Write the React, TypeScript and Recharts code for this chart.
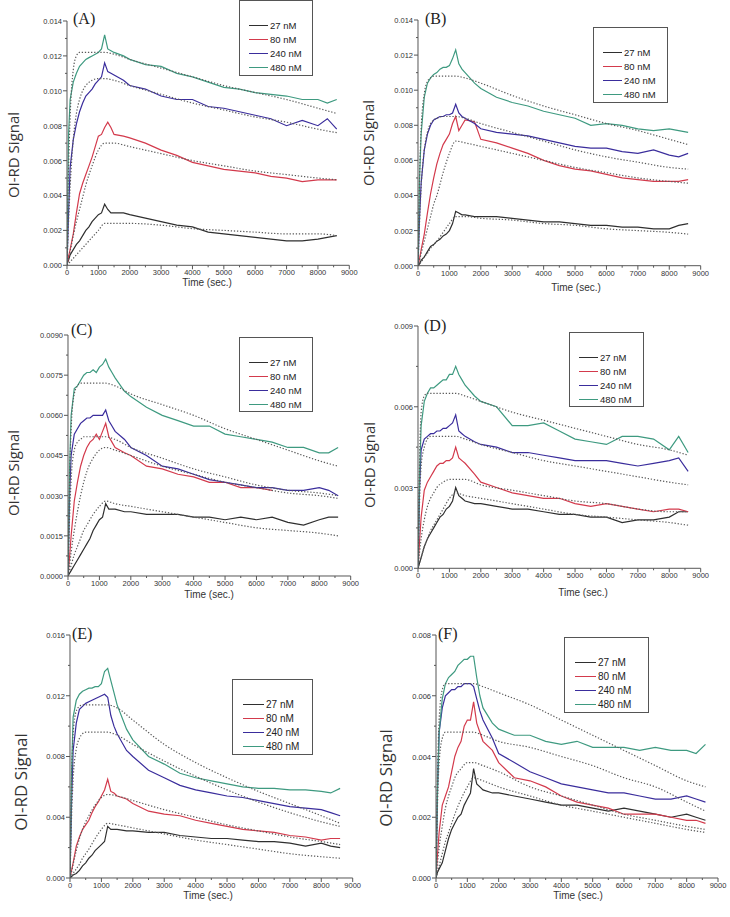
import React from "react";
import { Line, LineChart, XAxis, YAxis } from "recharts";

// sample times (sec.) for measured traces and for fitted curves
const T = [0, 50, 100, 200, 300, 400, 500, 600, 700, 800, 900, 1000, 1100, 1200, 1300, 1400, 1500, 1800, 2000, 2500, 3000, 3500, 4000, 4500, 5000, 5500, 6000, 6500, 7000, 7500, 8000, 8300, 8600];
const FT = [0, 50, 100, 200, 300, 400, 500, 600, 800, 1000, 1200, 1500, 2000, 3000, 4000, 5000, 6000, 7000, 8000, 8600];

const X_TICKS = [0, 500, 1000, 1500, 2000, 2500, 3000, 3500, 4000, 4500, 5000, 5500, 6000, 6500, 7000, 7500, 8000, 8500, 9000];
const Y_TICKS_AB = [0, 0.001, 0.002, 0.003, 0.004, 0.005, 0.006, 0.007, 0.008, 0.009, 0.01, 0.011, 0.012, 0.013, 0.014];
const Y_TICKS_C = [0, 0.00075, 0.0015, 0.00225, 0.003, 0.00375, 0.0045, 0.00525, 0.006, 0.00675, 0.0075, 0.00825, 0.009];
const Y_TICKS_D = [0, 0.0015, 0.003, 0.0045, 0.006, 0.0075, 0.009];
const Y_TICKS_E = [0, 0.002, 0.004, 0.006, 0.008, 0.01, 0.012, 0.014, 0.016];
const Y_TICKS_F = [0, 0.001, 0.002, 0.003, 0.004, 0.005, 0.006, 0.007, 0.008];

const CONCS = ["27 nM", "80 nM", "240 nM", "480 nM"];
const COLORS = ["#2f2f2f", "#d33a4c", "#3a2d9c", "#3e9a80"];

// (A)
const A_27 = [0.0001, 0.0003, 0.0006, 0.0009, 0.0012, 0.0014, 0.0017, 0.002, 0.0022, 0.0025, 0.0027, 0.0029, 0.003, 0.0035, 0.0032, 0.003, 0.003, 0.003, 0.0029, 0.0027, 0.0025, 0.0023, 0.0022, 0.0019, 0.0018, 0.0017, 0.0016, 0.0015, 0.0014, 0.0014, 0.0015, 0.0016, 0.0017];
const A_80 = [0, 0.0005, 0.0009, 0.0018, 0.003, 0.0041, 0.0047, 0.0052, 0.0057, 0.0062, 0.0068, 0.0074, 0.0075, 0.0079, 0.0082, 0.0079, 0.0075, 0.0074, 0.0073, 0.007, 0.0066, 0.0063, 0.0059, 0.0057, 0.0055, 0.0054, 0.0053, 0.0051, 0.005, 0.0048, 0.0049, 0.0049, 0.0049];
const A_240 = [0, 0.003, 0.0056, 0.0072, 0.0081, 0.0088, 0.0093, 0.0097, 0.0099, 0.0101, 0.0104, 0.0106, 0.0108, 0.0116, 0.0111, 0.011, 0.0109, 0.0106, 0.0103, 0.0101, 0.0097, 0.0095, 0.0095, 0.0091, 0.009, 0.0088, 0.0086, 0.0084, 0.008, 0.0083, 0.008, 0.0084, 0.0078];
const A_480 = [0, 0.0075, 0.0095, 0.0105, 0.011, 0.0114, 0.0116, 0.0118, 0.0119, 0.012, 0.0121, 0.0122, 0.0124, 0.0132, 0.0124, 0.0123, 0.0122, 0.012, 0.0118, 0.0115, 0.0114, 0.011, 0.0108, 0.0105, 0.0102, 0.0101, 0.0099, 0.0098, 0.0097, 0.0095, 0.0095, 0.0093, 0.0095];
const A_FIT_27 = [0, 0.0001, 0.0002, 0.0004, 0.0006, 0.0008, 0.001, 0.0012, 0.0016, 0.002, 0.0024, 0.0024, 0.0024, 0.0023, 0.0021, 0.002, 0.0019, 0.0018, 0.0018, 0.0017];
const A_FIT_80 = [0, 0.0004, 0.0008, 0.0017, 0.0025, 0.0032, 0.0039, 0.0046, 0.0057, 0.0066, 0.007, 0.007, 0.0068, 0.0064, 0.006, 0.0057, 0.0054, 0.0052, 0.005, 0.0049];
const A_FIT_240 = [0, 0.0025, 0.0045, 0.0072, 0.0087, 0.0095, 0.01, 0.0103, 0.0106, 0.0107, 0.0107, 0.0106, 0.0103, 0.0098, 0.0093, 0.0089, 0.0085, 0.0082, 0.0078, 0.0076];
const A_FIT_480 = [0, 0.0055, 0.0085, 0.0112, 0.012, 0.0122, 0.0122, 0.0122, 0.0122, 0.0122, 0.0122, 0.0121, 0.0118, 0.0113, 0.0108, 0.0103, 0.0099, 0.0095, 0.009, 0.0087];

// (B)
const B_27 = [0, 0.0001, 0.0003, 0.0005, 0.0008, 0.0011, 0.0012, 0.0014, 0.0015, 0.0017, 0.0018, 0.002, 0.0024, 0.0031, 0.003, 0.0029, 0.0029, 0.0028, 0.0028, 0.0028, 0.0027, 0.0026, 0.0025, 0.0025, 0.0024, 0.0023, 0.0023, 0.0022, 0.0022, 0.0021, 0.0021, 0.0023, 0.0024];
const B_80 = [0, 0.0004, 0.0009, 0.0018, 0.003, 0.0041, 0.005, 0.0058, 0.0064, 0.0069, 0.0072, 0.0075, 0.0081, 0.0085, 0.0077, 0.008, 0.0083, 0.0082, 0.0072, 0.007, 0.0067, 0.0064, 0.006, 0.0057, 0.0055, 0.0054, 0.0052, 0.005, 0.0049, 0.0048, 0.0048, 0.0048, 0.0049];
const B_240 = [0, 0.0028, 0.0047, 0.0066, 0.0075, 0.008, 0.0083, 0.0084, 0.0085, 0.0085, 0.0086, 0.0086, 0.0087, 0.0092, 0.0087, 0.0085, 0.0084, 0.0081, 0.0078, 0.0076, 0.0075, 0.0074, 0.0072, 0.007, 0.0068, 0.0067, 0.0067, 0.0065, 0.0064, 0.0066, 0.0063, 0.0062, 0.0064];
const B_480 = [0, 0.005, 0.0075, 0.0096, 0.0104, 0.0107, 0.0109, 0.011, 0.0112, 0.0113, 0.0113, 0.0114, 0.0118, 0.0123, 0.0115, 0.0112, 0.011, 0.0104, 0.0101, 0.0096, 0.0093, 0.0091, 0.0088, 0.0086, 0.0084, 0.008, 0.0081, 0.008, 0.0078, 0.0077, 0.0078, 0.0077, 0.0076];
const B_FIT_27 = [0, 0.0001, 0.0002, 0.0005, 0.0007, 0.001, 0.0012, 0.0014, 0.0019, 0.0024, 0.0028, 0.0028, 0.0027, 0.0026, 0.0024, 0.0023, 0.0021, 0.002, 0.0019, 0.0018];
const B_FIT_80 = [0, 0.0003, 0.0007, 0.0014, 0.0021, 0.0028, 0.0035, 0.004, 0.0053, 0.0064, 0.0071, 0.007, 0.0068, 0.0064, 0.006, 0.0056, 0.0053, 0.005, 0.0048, 0.0047];
const B_FIT_240 = [0, 0.0025, 0.0045, 0.0066, 0.0076, 0.0081, 0.0083, 0.0084, 0.0085, 0.0085, 0.0085, 0.0084, 0.0081, 0.0076, 0.0071, 0.0066, 0.0062, 0.0059, 0.0056, 0.0055];
const B_FIT_480 = [0, 0.005, 0.0078, 0.0098, 0.0105, 0.0107, 0.0108, 0.0108, 0.0108, 0.0108, 0.0108, 0.0107, 0.0104, 0.0097, 0.0091, 0.0086, 0.0081, 0.0077, 0.0072, 0.0069];

// (C)  the 80 nM trace disappears under 240 nM after ~6500 s
const C_27 = [0, 0.0001, 0.0002, 0.0004, 0.0006, 0.0008, 0.001, 0.0012, 0.0014, 0.0017, 0.0019, 0.0021, 0.0022, 0.0027, 0.0025, 0.0025, 0.0025, 0.0024, 0.0024, 0.0023, 0.0023, 0.0023, 0.0022, 0.0022, 0.0021, 0.0022, 0.0021, 0.0022, 0.002, 0.0019, 0.0021, 0.0022, 0.0022];
const C_80 = [0, 0.0007, 0.0015, 0.0028, 0.0035, 0.0041, 0.0045, 0.0048, 0.005, 0.0051, 0.0053, 0.0051, 0.0054, 0.0057, 0.0052, 0.005, 0.0048, 0.0046, 0.0045, 0.0041, 0.004, 0.0038, 0.0037, 0.0035, 0.0035, 0.0033, 0.0033, 0.0032];
const C_240 = [0, 0.003, 0.0045, 0.0053, 0.0055, 0.0057, 0.0058, 0.0059, 0.0059, 0.006, 0.006, 0.006, 0.006, 0.0062, 0.0058, 0.0056, 0.0054, 0.0051, 0.0048, 0.0045, 0.0041, 0.004, 0.0038, 0.0036, 0.0035, 0.0034, 0.0033, 0.0033, 0.0032, 0.0032, 0.0033, 0.0032, 0.003];
const C_480 = [0, 0.004, 0.006, 0.007, 0.0071, 0.0073, 0.0075, 0.0076, 0.0076, 0.0077, 0.0076, 0.0078, 0.0079, 0.0081, 0.0078, 0.0076, 0.0074, 0.0069, 0.0067, 0.0063, 0.006, 0.0058, 0.0056, 0.0056, 0.0053, 0.0052, 0.0051, 0.005, 0.0048, 0.0048, 0.0046, 0.0046, 0.0048];
const C_FIT_27 = [0, 0.0002, 0.0004, 0.0008, 0.0011, 0.0014, 0.0017, 0.0019, 0.0023, 0.0026, 0.0028, 0.0027, 0.0026, 0.0024, 0.0022, 0.002, 0.0018, 0.0017, 0.0016, 0.0015];
const C_FIT_80 = [0, 0.0004, 0.0009, 0.0017, 0.0024, 0.003, 0.0035, 0.0039, 0.0044, 0.0047, 0.0048, 0.0047, 0.0045, 0.0041, 0.0038, 0.0035, 0.0033, 0.0031, 0.003, 0.0029];
const C_FIT_240 = [0, 0.0022, 0.0036, 0.0047, 0.005, 0.0051, 0.0052, 0.0052, 0.0052, 0.0052, 0.0052, 0.0051, 0.0048, 0.0044, 0.004, 0.0037, 0.0034, 0.0032, 0.0031, 0.003];
const C_FIT_480 = [0, 0.0035, 0.0055, 0.0068, 0.0071, 0.0072, 0.0072, 0.0072, 0.0072, 0.0072, 0.0072, 0.0071, 0.0068, 0.0064, 0.006, 0.0055, 0.0051, 0.0047, 0.0043, 0.0041];

// (D)
const D_27 = [0, 0.0002, 0.0004, 0.0008, 0.0011, 0.0013, 0.0015, 0.0017, 0.0019, 0.002, 0.0022, 0.0023, 0.0025, 0.003, 0.0027, 0.0026, 0.0025, 0.0024, 0.0024, 0.0023, 0.0022, 0.0022, 0.0021, 0.002, 0.002, 0.0019, 0.0019, 0.0017, 0.0018, 0.0018, 0.0019, 0.0021, 0.0021];
const D_80 = [0, 0.001, 0.0019, 0.0029, 0.0032, 0.0034, 0.0036, 0.0038, 0.0039, 0.0039, 0.004, 0.004, 0.0041, 0.0045, 0.0041, 0.004, 0.0039, 0.0035, 0.0032, 0.003, 0.0028, 0.0027, 0.0026, 0.0026, 0.0024, 0.0023, 0.0024, 0.0023, 0.0022, 0.0021, 0.0022, 0.0022, 0.0021];
const D_240 = [0, 0.003, 0.0044, 0.0048, 0.0049, 0.005, 0.005, 0.0051, 0.0051, 0.0052, 0.0052, 0.0053, 0.0054, 0.0057, 0.0051, 0.005, 0.0049, 0.0047, 0.0046, 0.0045, 0.0043, 0.0043, 0.0042, 0.0041, 0.004, 0.004, 0.004, 0.0039, 0.0038, 0.0039, 0.004, 0.0041, 0.0036];
const D_480 = [0, 0.0035, 0.0053, 0.0062, 0.0065, 0.0067, 0.0067, 0.0068, 0.0069, 0.007, 0.007, 0.0072, 0.0072, 0.0075, 0.0072, 0.007, 0.0068, 0.0064, 0.0062, 0.006, 0.0053, 0.0053, 0.0054, 0.0051, 0.0048, 0.0047, 0.0046, 0.0049, 0.0049, 0.0048, 0.0044, 0.0049, 0.0043];
const D_FIT_27 = [0, 0.0002, 0.0004, 0.0008, 0.0011, 0.0014, 0.0016, 0.0018, 0.0022, 0.0026, 0.0028, 0.0027, 0.0026, 0.0024, 0.0022, 0.002, 0.0019, 0.0018, 0.0017, 0.0016];
const D_FIT_80 = [0, 0.0006, 0.0011, 0.0018, 0.0023, 0.0026, 0.0028, 0.003, 0.0032, 0.0033, 0.0033, 0.0033, 0.0031, 0.0029, 0.0027, 0.0025, 0.0024, 0.0022, 0.0021, 0.0021];
const D_FIT_240 = [0, 0.0025, 0.0038, 0.0045, 0.0048, 0.0049, 0.0049, 0.0049, 0.0049, 0.0049, 0.0049, 0.0048, 0.0046, 0.0043, 0.004, 0.0038, 0.0036, 0.0034, 0.0032, 0.0031];
const D_FIT_480 = [0, 0.004, 0.0058, 0.0064, 0.0065, 0.0065, 0.0065, 0.0065, 0.0065, 0.0065, 0.0065, 0.0064, 0.0062, 0.0058, 0.0055, 0.0052, 0.0049, 0.0046, 0.0044, 0.0042];

// (E)
const E_27 = [0, 0.0001, 0.0002, 0.0003, 0.0005, 0.0008, 0.001, 0.0013, 0.0015, 0.0018, 0.002, 0.0022, 0.0024, 0.0034, 0.0032, 0.0032, 0.0032, 0.0031, 0.0031, 0.003, 0.003, 0.0028, 0.0027, 0.0026, 0.0026, 0.0025, 0.0024, 0.0024, 0.0023, 0.0021, 0.0023, 0.0021, 0.002];
const E_80 = [0, 0.0005, 0.001, 0.0021, 0.0027, 0.0032, 0.0035, 0.0038, 0.0043, 0.0047, 0.005, 0.0054, 0.0058, 0.0065, 0.0057, 0.0056, 0.0054, 0.0052, 0.0049, 0.0044, 0.0042, 0.0041, 0.0038, 0.0036, 0.0034, 0.0032, 0.0031, 0.003, 0.0028, 0.0027, 0.0025, 0.0026, 0.0026];
const E_240 = [0, 0.005, 0.0084, 0.0102, 0.0111, 0.0113, 0.0115, 0.0116, 0.0117, 0.0118, 0.0119, 0.012, 0.0121, 0.0119, 0.0107, 0.01, 0.0095, 0.0084, 0.008, 0.0071, 0.0066, 0.0061, 0.0058, 0.0056, 0.0054, 0.0053, 0.0051, 0.0049, 0.0047, 0.0046, 0.0045, 0.0043, 0.0041];
const E_480 = [0, 0.007, 0.0106, 0.0117, 0.0121, 0.0123, 0.0124, 0.0125, 0.0125, 0.0126, 0.0126, 0.0128, 0.0136, 0.0138, 0.013, 0.0122, 0.0114, 0.0098, 0.0091, 0.008, 0.0075, 0.0069, 0.0066, 0.0064, 0.0062, 0.006, 0.0059, 0.0059, 0.0058, 0.0058, 0.0057, 0.0056, 0.0059];
const E_FIT_27 = [0, 0.0001, 0.0003, 0.0006, 0.0009, 0.0013, 0.0016, 0.0019, 0.0026, 0.0032, 0.0036, 0.0035, 0.0033, 0.0029, 0.0025, 0.0022, 0.0019, 0.0016, 0.0014, 0.0013];
const E_FIT_80 = [0, 0.0004, 0.0009, 0.0018, 0.0026, 0.0032, 0.0037, 0.0041, 0.0048, 0.0053, 0.0055, 0.0054, 0.0051, 0.0045, 0.004, 0.0035, 0.0031, 0.0027, 0.0024, 0.0022];
const E_FIT_240 = [0, 0.004, 0.0065, 0.0085, 0.0092, 0.0095, 0.0096, 0.0096, 0.0096, 0.0096, 0.0096, 0.0094, 0.0088, 0.0077, 0.0067, 0.0058, 0.005, 0.0043, 0.0037, 0.0034];
const E_FIT_480 = [0, 0.0065, 0.0095, 0.011, 0.0113, 0.0114, 0.0114, 0.0114, 0.0114, 0.0114, 0.0114, 0.0112, 0.0104, 0.0088, 0.0076, 0.0066, 0.0057, 0.0049, 0.0041, 0.0036];

// (F)
const F_27 = [0, 0.0002, 0.0003, 0.0005, 0.0009, 0.0013, 0.0016, 0.0018, 0.002, 0.0021, 0.0024, 0.0026, 0.0028, 0.0036, 0.0031, 0.003, 0.0029, 0.0028, 0.0028, 0.0027, 0.0026, 0.0025, 0.0024, 0.0024, 0.0023, 0.0022, 0.0023, 0.0022, 0.0021, 0.002, 0.0021, 0.002, 0.0019];
const F_80 = [0, 0.0008, 0.0015, 0.0024, 0.0027, 0.003, 0.0035, 0.004, 0.0043, 0.0045, 0.005, 0.0052, 0.0052, 0.0058, 0.0051, 0.0048, 0.0045, 0.0042, 0.0038, 0.0033, 0.0032, 0.003, 0.0027, 0.0025, 0.0024, 0.0023, 0.0021, 0.0021, 0.0021, 0.002, 0.0019, 0.0019, 0.0018];
const F_240 = [0, 0.003, 0.0048, 0.0056, 0.006, 0.0061, 0.0062, 0.0062, 0.0063, 0.0063, 0.0064, 0.0064, 0.0064, 0.0063, 0.0059, 0.0055, 0.0052, 0.0046, 0.0041, 0.0038, 0.0035, 0.0033, 0.0031, 0.003, 0.0029, 0.0028, 0.0028, 0.0027, 0.0026, 0.0026, 0.0027, 0.0026, 0.0025];
const F_480 = [0, 0.003, 0.0048, 0.0059, 0.0064, 0.0066, 0.0067, 0.0068, 0.007, 0.0071, 0.0072, 0.0072, 0.0073, 0.0073, 0.0066, 0.006, 0.0056, 0.0051, 0.0049, 0.0047, 0.0047, 0.0045, 0.0044, 0.0045, 0.0043, 0.0043, 0.0043, 0.0042, 0.0043, 0.0042, 0.0042, 0.0041, 0.0044];
const F_FIT_27 = [0, 0.0002, 0.0004, 0.0008, 0.0012, 0.0015, 0.0018, 0.0021, 0.0026, 0.003, 0.0033, 0.0032, 0.003, 0.0027, 0.0024, 0.0022, 0.002, 0.0018, 0.0016, 0.0015];
const F_FIT_80 = [0, 0.0005, 0.001, 0.0017, 0.0023, 0.0027, 0.003, 0.0033, 0.0036, 0.0038, 0.0038, 0.0037, 0.0035, 0.003, 0.0027, 0.0024, 0.0021, 0.0019, 0.0017, 0.0016];
const F_FIT_240 = [0, 0.0025, 0.0038, 0.0046, 0.0048, 0.0048, 0.0048, 0.0048, 0.0048, 0.0048, 0.0048, 0.0047, 0.0045, 0.0043, 0.004, 0.0037, 0.0033, 0.003, 0.0025, 0.0022];
const F_FIT_480 = [0, 0.0035, 0.0052, 0.0062, 0.0064, 0.0064, 0.0064, 0.0064, 0.0064, 0.0064, 0.0064, 0.0063, 0.0061, 0.0057, 0.0052, 0.0047, 0.0042, 0.0037, 0.0032, 0.003];

const AXIS = "#555";
const FIT = "#5a5a5a";
const SANS = '"Liberation Sans", Arial, sans-serif';

const panels = [
  {
    letter: "(A)", data: [A_27, A_80, A_240, A_480], fits: [A_FIT_27, A_FIT_80, A_FIT_240, A_FIT_480],
    yMax: 0.014, yTicks: Y_TICKS_AB, yMajor: 0.002, digits: 3,
    plot: { l: 66.7, t: 20.7, r: 349, b: 265 },
    legend: { l: 239, t: 0, w: 74, h: 76 }, ylab: { x: 13, y: 155, size: 15 }, xlab: { x: 207, y: 283 }, tag: { x: 73, y: 20.5 },
  },
  {
    letter: "(B)", data: [B_27, B_80, B_240, B_480], fits: [B_FIT_27, B_FIT_80, B_FIT_240, B_FIT_480],
    yMax: 0.014, yTicks: Y_TICKS_AB, yMajor: 0.002, digits: 3,
    plot: { l: 418.3, t: 20, r: 701, b: 265.7 },
    legend: { l: 593, t: 27, w: 75, h: 76 }, ylab: { x: 368, y: 143, size: 15 }, xlab: { x: 576, y: 288 }, tag: { x: 425, y: 20.5 },
  },
  {
    letter: "(C)", data: [C_27, C_80, C_240, C_480], fits: [C_FIT_27, C_FIT_80, C_FIT_240, C_FIT_480],
    yMax: 0.009, yTicks: Y_TICKS_C, yMajor: 0.0015, digits: 4,
    plot: { l: 68.3, t: 335, r: 351, b: 576 },
    legend: { l: 239, t: 337, w: 74, h: 75 }, ylab: { x: 13, y: 473, size: 15 }, xlab: { x: 209, y: 595 }, tag: { x: 71, y: 331 },
  },
  {
    letter: "(D)", data: [D_27, D_80, D_240, D_480], fits: [D_FIT_27, D_FIT_80, D_FIT_240, D_FIT_480],
    yMax: 0.009, yTicks: Y_TICKS_D, yMajor: 0.003, digits: 3,
    plot: { l: 418, t: 325.7, r: 700.7, b: 568 },
    legend: { l: 569, t: 332, w: 75, h: 75 }, ylab: { x: 369, y: 465, size: 15 }, xlab: { x: 583, y: 593 }, tag: { x: 424, y: 327 },
  },
  {
    letter: "(E)", data: [E_27, E_80, E_240, E_480], fits: [E_FIT_27, E_FIT_80, E_FIT_240, E_FIT_480],
    yMax: 0.016, yTicks: Y_TICKS_E, yMajor: 0.004, digits: 3,
    plot: { l: 70, t: 635, r: 352.7, b: 878 },
    legend: { l: 232, t: 679, w: 81, h: 76 }, ylab: { x: 20, y: 782, size: 17 }, xlab: { x: 208, y: 896 }, tag: { x: 72, y: 635 },
  },
  {
    letter: "(F)", data: [F_27, F_80, F_240, F_480], fits: [F_FIT_27, F_FIT_80, F_FIT_240, F_FIT_480],
    yMax: 0.008, yTicks: Y_TICKS_F, yMajor: 0.002, digits: 3,
    plot: { l: 436, t: 635, r: 718, b: 878 },
    legend: { l: 564, t: 637, w: 85, h: 76 }, ylab: { x: 385, y: 778, size: 17 }, xlab: { x: 578, y: 896 }, tag: { x: 438, y: 635 },
  },
];

const rows = (ts: number[], vs: number[]) => vs.map((v, i) => ({ t: ts[i], v }));

function XTick(props: any) {
  const { x, y, payload } = props;
  const major = payload.value % 1000 === 0;
  return (
    <g>
      <line x1={x} x2={x} y1={y} y2={y + (major ? 4 : 2)} stroke={AXIS} />
      {major && (
        <text x={x} y={y + 10} textAnchor="middle" fontSize={7.5} fill="#333" fontFamily={SANS}>
          {payload.value}
        </text>
      )}
    </g>
  );
}

const makeYTick = (step: number, digits: number) => (props: any) => {
  const { x, y, payload } = props;
  const q = payload.value / step;
  const major = Math.abs(q - Math.round(q)) < 1e-6;
  return (
    <g>
      <line x1={x} x2={x - (major ? 4 : 2)} y1={y} y2={y} stroke={AXIS} />
      {major && (
        <text x={x - 5} y={y + 3} textAnchor="end" fontSize={7.5} fill="#333" fontFamily={SANS}>
          {payload.value.toFixed(digits)}
        </text>
      )}
    </g>
  );
};

const Y_W = 50;
const X_H = 30;

function Panel({ p }: { p: (typeof panels)[number] }) {
  const m = { left: 20, top: 12, right: 20, bottom: 0 };
  const w = p.plot.r - p.plot.l;
  const h = p.plot.b - p.plot.t;
  const big = p.ylab.size > 15;
  return (
    <>
      <div style={{ position: "absolute", left: p.plot.l - m.left - Y_W, top: p.plot.t - m.top }}>
        <LineChart width={w + m.left + m.right + Y_W} height={h + m.top + m.bottom + X_H} margin={m}>
          <XAxis dataKey="t" type="number" domain={[0, 9000]} ticks={X_TICKS} interval={0}
            tick={XTick} tickLine={false} tickSize={0} tickMargin={0} height={X_H} stroke={AXIS} allowDataOverflow />
          <YAxis type="number" domain={[0, p.yMax]} ticks={p.yTicks} interval={0}
            tick={makeYTick(p.yMajor, p.digits)} tickLine={false} tickSize={0} tickMargin={0} width={Y_W} stroke={AXIS} allowDataOverflow />
          {p.data.map((vs, i) => (
            <Line key={"d" + i} data={rows(T, vs)} dataKey="v" type="linear" stroke={COLORS[i]}
              strokeWidth={1.2} dot={false} activeDot={false} isAnimationActive={false} />
          ))}
          {p.fits.map((vs, i) => (
            <Line key={"f" + i} data={rows(FT, vs)} dataKey="v" type="monotone" stroke={FIT}
              strokeWidth={1.2} strokeDasharray="1.3 1.8" dot={false} activeDot={false} isAnimationActive={false} />
          ))}
        </LineChart>
      </div>
      <div style={{ position: "absolute", left: p.tag.x, top: p.tag.y - 9.5, fontFamily: '"Liberation Serif", serif', fontSize: 16, lineHeight: 1, color: "#222" }}>
        {p.letter}
      </div>
      <div style={{ position: "absolute", left: p.ylab.x, top: p.ylab.y, transform: "translate(-50%, -50%) rotate(-90deg)", fontFamily: '"Open Sans", sans-serif', fontSize: p.ylab.size, lineHeight: 1, color: "#333", whiteSpace: "nowrap" }}>
        OI-RD Signal
      </div>
      <div style={{ position: "absolute", left: p.xlab.x, top: p.xlab.y, transform: "translate(-50%, -50%)", fontFamily: SANS, fontSize: 10, lineHeight: 1, color: "#333", whiteSpace: "nowrap" }}>
        Time (sec.)
      </div>
      <div style={{ position: "absolute", left: p.legend.l, top: p.legend.t, width: p.legend.w, height: p.legend.h, boxSizing: "border-box", border: "1px solid #555", background: "#fff", paddingTop: 17 }}>
        {CONCS.map((c, i) => (
          <div key={c} style={{ position: "relative", height: 14 }}>
            <span style={{ position: "absolute", left: big ? 10 : 9, top: 7, width: big ? 21 : 19, height: 1, background: COLORS[i] }} />
            <span style={{ position: "absolute", left: big ? 33 : 30, top: 2, fontFamily: SANS, fontSize: big ? 10 : 9.5, color: "#222", lineHeight: "11px" }}>{c}</span>
          </div>
        ))}
      </div>
    </>
  );
}

export default function App() {
  return (
    <div style={{ position: "absolute", left: 0, top: 0, width: 730, height: 917, overflow: "hidden", background: "#fff" }}>
      {panels.map((p) => (
        <Panel key={p.letter} p={p} />
      ))}
    </div>
  );
}
